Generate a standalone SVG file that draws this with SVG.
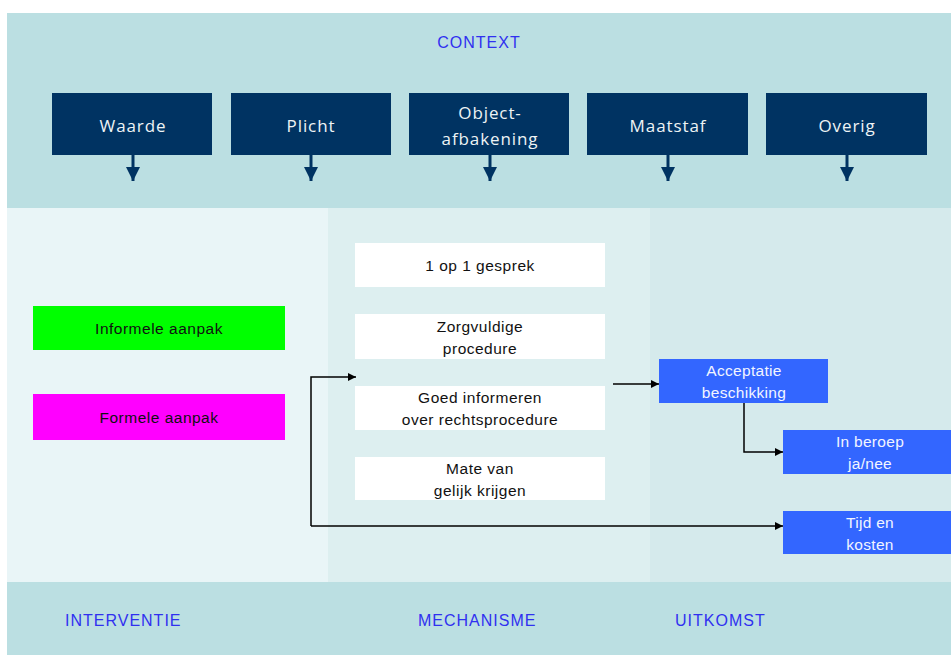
<svg xmlns="http://www.w3.org/2000/svg" width="951" height="655" viewBox="0 0 951 655">
<style>
.band{fill:#BBDFE2}
.dark{fill:#003362}
.dt{font-family:"Open Sans",sans-serif;font-size:17px;fill:#EEF3F5;text-anchor:middle;letter-spacing:0.9px}
.lbl{font-family:"Liberation Sans",sans-serif;font-size:16px;fill:#3030F0;letter-spacing:1px}
.wt{font-family:"Liberation Sans",sans-serif;font-size:15.5px;fill:#111;text-anchor:middle;letter-spacing:0.5px}
.wb{fill:#FFFFFF}
.bb{fill:#3366FF}
.bt{font-family:"Liberation Sans",sans-serif;font-size:15.5px;fill:#F2F5FF;text-anchor:middle;letter-spacing:0.3px}
.con{fill:none;stroke:#000;stroke-width:1.5}
.ctx{fill:none;stroke:#003362;stroke-width:3}
</style>
<defs>
<marker id="ah" viewBox="0 0 10 10" refX="10" refY="5" markerWidth="8" markerHeight="8" markerUnits="userSpaceOnUse" orient="auto"><path d="M0,0 L10,5 L0,10 z" fill="#000"/></marker>
<marker id="dh" viewBox="0 0 10 10" refX="10" refY="5" markerWidth="14" markerHeight="14" markerUnits="userSpaceOnUse" orient="auto"><path d="M0,0 L10,5 L0,10 z" fill="#003362"/></marker>
</defs>
<rect x="0" y="0" width="951" height="655" fill="#FFFFFF"/>
<rect class="band" x="7" y="13" width="944" height="195"/>
<rect x="7" y="208" width="321" height="374" fill="#E9F5F7"/>
<rect x="328" y="208" width="322" height="374" fill="#DDEFF0"/>
<rect x="650" y="208" width="301" height="374" fill="#D5EAEC"/>
<rect class="band" x="7" y="582" width="944" height="73"/>
<text class="lbl" x="479" y="48" text-anchor="middle">CONTEXT</text>
<text class="lbl" x="65" y="626">INTERVENTIE</text>
<text class="lbl" x="418" y="626">MECHANISME</text>
<text class="lbl" x="675" y="626">UITKOMST</text>
<g id="connectors">
<line class="ctx" x1="133" y1="155" x2="133" y2="181" marker-end="url(#dh)"/>
<line class="ctx" x1="311" y1="155" x2="311" y2="181" marker-end="url(#dh)"/>
<line class="ctx" x1="490" y1="155" x2="490" y2="181" marker-end="url(#dh)"/>
<line class="ctx" x1="668" y1="155" x2="668" y2="181" marker-end="url(#dh)"/>
<line class="ctx" x1="847" y1="155" x2="847" y2="181" marker-end="url(#dh)"/>
<polyline class="con" points="311,526 311,377 356,377" marker-end="url(#ah)"/>
<line class="con" x1="311" y1="526" x2="783" y2="526" marker-end="url(#ah)"/>
<line class="con" x1="613" y1="384" x2="659" y2="384" marker-end="url(#ah)"/>
<polyline class="con" points="744,403 744,452 783,452" marker-end="url(#ah)"/>
</g>
<g id="waarde"><rect class="dark" x="52" y="93" width="160" height="62"/><text class="dt" x="133" y="132">Waarde</text></g>
<g id="plicht"><rect class="dark" x="231" y="93" width="160" height="62"/><text class="dt" x="311" y="132">Plicht</text></g>
<g id="object"><rect class="dark" x="409" y="93" width="160" height="62"/><text class="dt" x="490" y="119">Object-</text><text class="dt" x="490" y="145">afbakening</text></g>
<g id="maatstaf"><rect class="dark" x="587" y="93" width="161" height="62"/><text class="dt" x="668" y="132">Maatstaf</text></g>
<g id="overig"><rect class="dark" x="766" y="93" width="161" height="62"/><text class="dt" x="847" y="132">Overig</text></g>
<g id="informeel"><rect x="33" y="306" width="252" height="44" fill="#00FF00"/><text class="wt" x="159" y="334">Informele aanpak</text></g>
<g id="formeel"><rect x="33" y="394" width="252" height="46" fill="#FF00FF"/><text class="wt" x="159" y="423">Formele aanpak</text></g>
<g id="gesprek"><rect class="wb" x="355" y="243" width="250" height="44"/><text class="wt" x="480" y="271">1 op 1 gesprek</text></g>
<g id="zorgvuldig"><rect class="wb" x="355" y="314" width="250" height="45"/><text class="wt" x="480" y="332">Zorgvuldige</text><text class="wt" x="480" y="354">procedure</text></g>
<g id="informeren"><rect class="wb" x="355" y="386" width="250" height="44"/><text class="wt" x="480" y="403">Goed informeren</text><text class="wt" x="480" y="425">over rechtsprocedure</text></g>
<g id="gelijk"><rect class="wb" x="355" y="457" width="250" height="43"/><text class="wt" x="480" y="474">Mate van</text><text class="wt" x="480" y="496">gelijk krijgen</text></g>
<g id="acceptatie"><rect class="bb" x="659" y="359" width="169" height="44"/><text class="bt" x="744" y="376">Acceptatie</text><text class="bt" x="744" y="398">beschikking</text></g>
<g id="beroep"><rect class="bb" x="783" y="430" width="168" height="44"/><text class="bt" x="870" y="447">In beroep</text><text class="bt" x="870" y="469">ja/nee</text></g>
<g id="tijd"><rect class="bb" x="783" y="511" width="168" height="43"/><text class="bt" x="870" y="528">Tijd en</text><text class="bt" x="870" y="550">kosten</text></g>
</svg>
